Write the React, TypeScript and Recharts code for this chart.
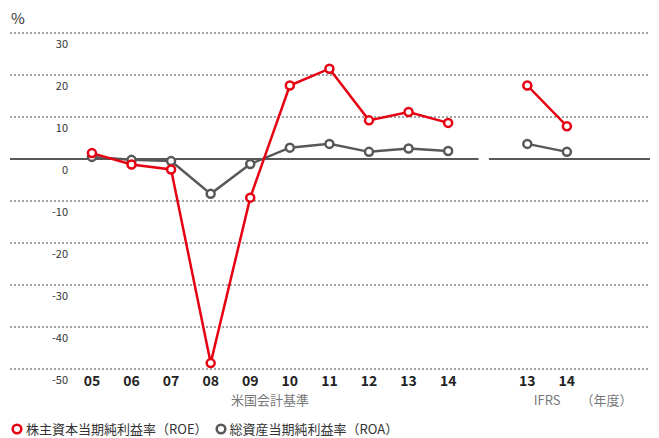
import React from "react";
import { LineChart, Line, XAxis, YAxis, ReferenceLine } from "recharts";

const years = ["05", "06", "07", "08", "09", "10", "11", "12", "13", "14", "", "13", "14"];
const roe = [1.4, -1.3, -2.5, -48.6, -9.2, 17.5, 21.5, 9.2, 11.2, 8.6, null, 17.5, 7.8];
const roa = [0.5, -0.2, -0.5, -8.3, -1.2, 2.7, 3.6, 1.7, 2.5, 1.9, null, 3.6, 1.7];
const yTicks = [30, 20, 10, 0, -10, -20, -30, -40, -50];
const gridValues = [30, 20, 10, -10, -20, -30, -40, -50];
const groupLabels = ["米国会計基準", "IFRS", "（年度）"];
const groupPositions = [4.5, 11.5, 13];

const RED = "#e60012";
const GRAY = "#595757";
const FONT = '"Noto Sans CJK JP", "Noto Sans", sans-serif';
const X_DOMAIN: [number, number] = [-2.07, 14.1];
const ZERO_BREAK: [number, number] = [9.77, 10.03];

const data = years.map((year, i) => ({ i, year, roe: roe[i], roa: roa[i] }));
const yearTicks = data.filter((d) => d.year !== "").map((d) => d.i);

const YearTick = ({ x, y, payload }: any) => (
  <text x={x} y={y} dy={2.5} dominantBaseline="central" textAnchor="middle"
    fontSize={14} fontWeight="bold" fill="#222" fontFamily={FONT}>
    {years[payload.value]}
  </text>
);

const GroupTick = ({ x, y, payload }: any) => (
  <text x={x} y={y} dominantBaseline="central" textAnchor="middle"
    fontSize={13} fill="#777" fontFamily={FONT}>
    {groupLabels[groupPositions.indexOf(payload.value)]}
  </text>
);

const ValueTick = ({ y, payload }: any) => (
  <text x={68} y={y} dy={9.5} dominantBaseline="central" textAnchor="end"
    fontSize={11} fill="#333" fontFamily={FONT}>
    {payload.value}
  </text>
);

const LegendDot = ({ color }: { color: string }) => (
  <svg width={12} height={12} style={{ display: "block" }}>
    <circle cx={6} cy={6} r={4.3} fill="#fff" stroke={color} strokeWidth={2.5} />
  </svg>
);

export default function App() {
  return (
    <div style={{ position: "absolute", left: 0, top: 0, width: 659, height: 438, background: "#fff", fontFamily: FONT }}>
      <div style={{ position: "absolute", left: 11, top: 7, fontSize: 15, color: "#333" }}>%</div>
      <LineChart width={659} height={410} data={data} margin={{ top: 33, right: 9, left: 9, bottom: 0 }}>
        <XAxis xAxisId="a_year" dataKey="i" type="number" domain={X_DOMAIN} ticks={yearTicks}
          tick={<YearTick />} axisLine={false} tickLine={false} height={22} interval={0} allowDataOverflow />
        <XAxis xAxisId="b_group" dataKey="i" type="number" domain={X_DOMAIN} ticks={groupPositions}
          tick={<GroupTick />} axisLine={false} tickLine={false} height={19} interval={0} allowDataOverflow />
        <YAxis domain={[-50, 30]} ticks={yTicks} tick={<ValueTick />} axisLine={false}
          tickLine={false} width={1} interval={0} />
        {gridValues.map((v) => (
          <ReferenceLine key={v} xAxisId="a_year" y={v} stroke="#444" strokeDasharray="2 2" strokeWidth={1} />
        ))}
        <ReferenceLine xAxisId="a_year" segment={[{ x: X_DOMAIN[0], y: 0 }, { x: ZERO_BREAK[0], y: 0 }]}
          stroke={GRAY} strokeWidth={2} />
        <ReferenceLine xAxisId="a_year" segment={[{ x: ZERO_BREAK[1], y: 0 }, { x: X_DOMAIN[1], y: 0 }]}
          stroke={GRAY} strokeWidth={2} />
        <Line xAxisId="a_year" dataKey="roa" stroke={GRAY} strokeWidth={2.5} isAnimationActive={false}
          dot={{ r: 4, fill: "#fff", stroke: GRAY, strokeWidth: 2.5 }} connectNulls={false} />
        <Line xAxisId="a_year" dataKey="roe" stroke={RED} strokeWidth={2.5} isAnimationActive={false}
          dot={{ r: 4, fill: "#fff", stroke: RED, strokeWidth: 2.5 }} connectNulls={false} />
      </LineChart>
      <div style={{ position: "absolute", left: 11, top: 420, display: "flex", alignItems: "center",
        fontSize: 13, color: "#333", lineHeight: "18px" }}>
        <LegendDot color={RED} />
        <span style={{ marginLeft: 3 }}>株主資本当期純利益率（ROE）</span>
        <span style={{ marginLeft: 7 }}><LegendDot color={GRAY} /></span>
        <span style={{ marginLeft: 3 }}>総資産当期純利益率（ROA）</span>
      </div>
    </div>
  );
}
